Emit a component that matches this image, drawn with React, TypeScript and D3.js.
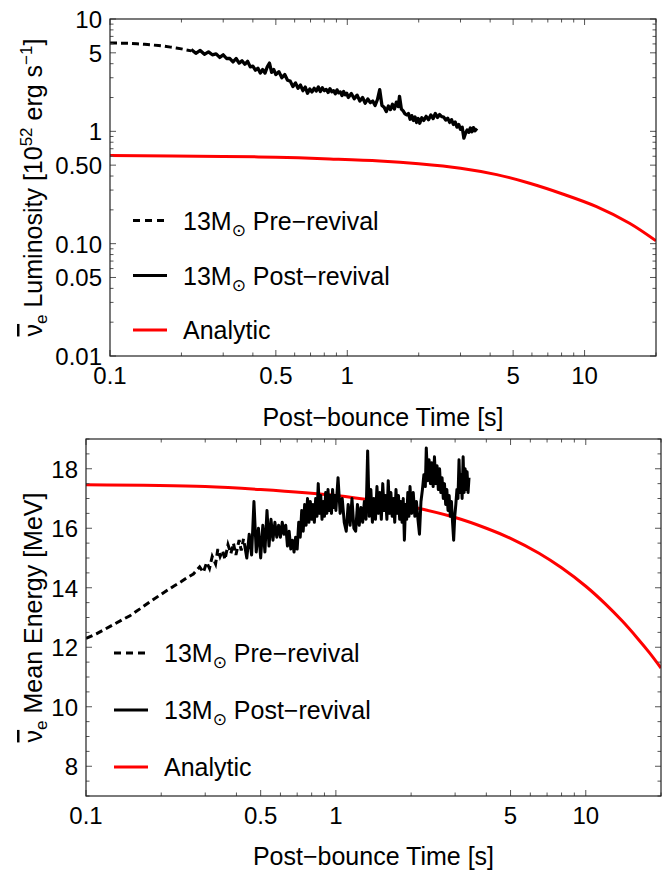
import React from "react";
import * as d3 from "d3";

// ---------- Data: luminosity panel ----------
const lumPreTime = [0.1, 0.11, 0.12, 0.13, 0.14, 0.15, 0.16, 0.17, 0.18, 0.19, 0.2, 0.21, 0.22];
const lumPreValue = [6.1, 6.1, 6.08, 6.02, 5.95, 5.88, 5.8, 5.72, 5.62, 5.52, 5.42, 5.3, 5.2];

const lumPostTime = [
  0.22, 0.23, 0.24, 0.25, 0.26, 0.27, 0.28, 0.29, 0.3, 0.31, 0.32, 0.33, 0.34, 0.35, 0.36, 0.37,
  0.38, 0.39, 0.4, 0.41, 0.42, 0.43, 0.44, 0.45, 0.46, 0.47, 0.48, 0.49, 0.5, 0.515, 0.53, 0.545,
  0.56, 0.575, 0.59, 0.605, 0.62, 0.635, 0.65, 0.665, 0.68, 0.695, 0.71, 0.725, 0.74, 0.755, 0.77,
  0.785, 0.8, 0.815, 0.83, 0.845, 0.86, 0.875, 0.89, 0.905, 0.92, 0.935, 0.95, 0.965, 0.98, 0.995,
  1.01, 1.04, 1.07, 1.1, 1.13, 1.16, 1.19, 1.22, 1.25, 1.28, 1.31, 1.34, 1.37, 1.4, 1.43, 1.46,
  1.49, 1.52, 1.55, 1.58, 1.61, 1.64, 1.66, 1.69, 1.72, 1.75, 1.78, 1.81, 1.84, 1.87, 1.9, 1.93,
  1.96, 1.99, 2.02, 2.06, 2.1, 2.15, 2.2, 2.25, 2.3, 2.35, 2.4, 2.45, 2.5, 2.55, 2.6, 2.65, 2.7,
  2.75, 2.8, 2.85, 2.9, 2.95, 3.0, 3.05, 3.1, 3.15, 3.2, 3.25, 3.3, 3.35, 3.4, 3.45, 3.52,
];
const lumPostValue = [
  5.35, 4.95, 5.25, 4.85, 5.1, 4.8, 4.9, 4.55, 4.8, 4.45, 4.45, 4.15, 4.45, 4.05, 4.25, 3.95,
  4.2, 3.75, 3.8, 3.5, 3.65, 3.3, 3.55, 3.3, 3.75, 4.05, 3.35, 3.55, 3.2, 3.4, 3.0, 3.2,
  2.85, 2.8, 2.5, 2.7, 2.42, 2.58, 2.3, 2.48, 2.18, 2.38, 2.24, 2.42, 2.28, 2.48, 2.26,
  2.44, 2.3, 2.36, 2.22, 2.4, 2.25, 2.3, 2.16, 2.34, 2.2, 2.24, 2.08, 2.26, 2.12, 2.18,
  2.0, 2.17, 1.95, 2.1, 1.86, 2.0, 1.78, 1.94, 1.8, 1.86, 1.7, 1.92, 2.35, 1.7, 1.64, 1.5,
  1.68, 1.56, 1.74, 1.58, 1.82, 1.66, 2.05, 1.58, 1.52, 1.43, 1.4, 1.44, 1.28, 1.38, 1.25, 1.34,
  1.2, 1.3, 1.18, 1.32, 1.25, 1.36, 1.27, 1.4, 1.3, 1.44, 1.33, 1.41, 1.35, 1.34, 1.26, 1.31, 1.2,
  1.27, 1.15, 1.21, 1.09, 1.15, 1.04, 1.09, 0.87, 0.96, 1.03, 0.98, 1.07, 0.99, 1.08, 1.01, 1.06,
];

const lumAnaTime = [0.1, 0.3, 0.5, 0.844, 1.37, 2.0, 3.0, 4.262, 5.866, 8.08, 11.23, 15.47, 20];
const lumAnaValue = [0.608, 0.598, 0.588, 0.568, 0.545, 0.515, 0.47, 0.412, 0.345, 0.277, 0.2136, 0.152, 0.106];

// ---------- Data: mean energy panel ----------
const enPreTime = [
  0.1, 0.11, 0.12, 0.13, 0.14, 0.15, 0.165, 0.18, 0.195, 0.21, 0.225, 0.24, 0.255, 0.269,
  0.285, 0.295, 0.304, 0.312, 0.32, 0.33, 0.337, 0.344, 0.352, 0.36, 0.37, 0.38, 0.389, 0.398,
  0.41, 0.418, 0.427,
];
const enPreValue = [
  12.3, 12.45, 12.62, 12.78, 12.93, 13.06, 13.3, 13.52, 13.72, 13.9, 14.06, 14.2, 14.35, 14.46,
  14.7, 14.52, 14.85, 14.65, 15.05, 14.8, 15.3, 15.05, 15.25, 14.95, 15.45, 15.15, 15.5, 15.1,
  15.6, 15.25, 15.65,
];

const enPostTime = [
  0.43, 0.44, 0.45, 0.46, 0.47, 0.48, 0.49, 0.5, 0.51, 0.52, 0.53, 0.54, 0.55, 0.56, 0.57, 0.58,
  0.59, 0.6, 0.61, 0.62, 0.63, 0.64, 0.65, 0.66, 0.67, 0.68, 0.69, 0.7, 0.71, 0.72, 0.73, 0.74,
  0.75, 0.76, 0.77, 0.78, 0.79, 0.8, 0.81, 0.82, 0.83, 0.84, 0.85, 0.86, 0.87, 0.88, 0.89, 0.9,
  0.91, 0.92, 0.93, 0.94, 0.95, 0.96, 0.97, 0.98, 0.99,
  1.0, 1.02, 1.04, 1.06, 1.08, 1.1, 1.12, 1.14, 1.16, 1.18, 1.2, 1.22, 1.24, 1.26, 1.28, 1.3,
  1.32, 1.34, 1.36, 1.38, 1.4, 1.42, 1.44, 1.46, 1.48, 1.5, 1.52, 1.54, 1.56, 1.58, 1.6, 1.62,
  1.64, 1.66, 1.68, 1.7, 1.72, 1.74, 1.76, 1.78, 1.8, 1.82, 1.84, 1.86, 1.88, 1.9, 1.92, 1.94,
  1.96, 1.98,
  2.01, 2.04, 2.07, 2.1, 2.13, 2.16, 2.19, 2.22, 2.25, 2.28, 2.3, 2.33, 2.36, 2.39, 2.42, 2.45,
  2.48, 2.51, 2.54, 2.57, 2.6, 2.63, 2.66, 2.69, 2.72, 2.75, 2.78, 2.81, 2.84, 2.87, 2.9, 2.93,
  2.96, 2.99, 3.02, 3.05, 3.08, 3.11, 3.14, 3.17, 3.2, 3.23, 3.26, 3.29, 3.32, 3.35, 3.38, 3.41,
];
const enPostValue = [
  15.5, 15.0, 15.8, 15.1, 16.9, 15.2, 16.0, 15.0, 16.1, 15.2, 16.6, 15.4, 16.3, 15.6, 16.2, 15.7,
  16.1, 15.7, 16.2, 15.8, 16.1, 15.4, 15.9, 15.3, 15.6, 15.2, 15.7, 15.3, 16.2, 15.7, 16.6, 15.9,
  16.8, 16.1, 17.0, 16.2, 16.9, 16.3, 16.8, 16.2, 17.0, 16.4, 17.5, 16.5, 17.1, 16.3, 16.9, 16.4,
  17.2, 16.5, 17.3, 16.6, 17.1, 16.5, 17.3, 16.7, 17.1,
  16.6, 17.7, 16.5, 17.0, 16.2, 15.9, 16.8, 16.1, 17.0, 16.0, 15.9, 16.8, 16.1, 16.7, 16.2, 16.9,
  16.3, 18.6, 16.4, 17.3, 16.2, 17.0, 16.3, 17.4, 16.5, 17.2, 16.3, 17.5, 16.6, 17.1, 16.3, 17.6,
  16.5, 17.2, 16.4, 17.0, 16.2, 17.3, 16.5, 17.1, 16.3, 16.9, 16.2, 17.0, 15.6, 16.8, 16.3, 17.2,
  16.4, 17.4,
  16.5, 17.2, 16.4, 16.9, 16.3, 15.8, 16.9, 17.3, 17.8, 17.4, 18.7, 17.6, 18.3, 17.5, 18.2, 17.4,
  18.4, 17.5, 18.1, 17.3, 18.0, 17.2, 17.7, 17.0, 17.5, 16.8, 17.3, 16.6, 17.1, 16.4, 16.9, 16.2,
  15.6, 16.4, 16.8, 17.3, 17.0, 18.3, 17.2, 17.8, 17.0, 18.4, 17.2, 18.0, 17.3, 17.9, 17.2, 17.7,
];

const enAnaTime = [0.1, 0.3, 0.5, 1.0, 1.5, 2.0, 3.0, 4.0, 5.0, 6.5, 8.0, 10, 12, 14, 16, 18, 20];
const enAnaValue = [17.46, 17.4, 17.3, 17.1, 16.9, 16.72, 16.36, 16.0, 15.66, 15.16, 14.67, 14.05, 13.45, 12.88, 12.33, 11.81, 11.3];

// ---------- Ticks / labels ----------
const timeTickValues = [0.1, 0.5, 1, 5, 10];
const timeTickLabels = ["0.1", "0.5", "1", "5", "10"];
const lumTickValues = [0.01, 0.05, 0.1, 0.5, 1, 5, 10];
const lumTickLabels = ["0.01", "0.05", "0.10", "0.50", "1", "5", "10"];
const enTickValues = [8, 10, 12, 14, 16, 18];
const enTickLabels = ["8", "10", "12", "14", "16", "18"];

const legendLabels = ["Pre\u2212revival", "Post\u2212revival", "Analytic"];
const xTitle = "Post\u2212bounce Time [s]";

const FONT = "'Liberation Sans', Arial, Helvetica, sans-serif";
const RED = "#ff0000";
const FRAME = "#222";
const TICK = "#555";

function logMinors(lo: number, hi: number) {
  const out: number[] = [];
  for (let e = Math.floor(Math.log10(lo)); e <= Math.ceil(Math.log10(hi)); e++) {
    for (let m = 1; m <= 9; m++) {
      const v = m * Math.pow(10, e);
      if (v >= lo * 0.999 && v <= hi * 1.001) out.push(v);
    }
  }
  return out;
}

type Box = { l: number; r: number; t: number; b: number };

function Frame({ box, xs, ys, xMinor, yMinor, xMajor, yMajor }: any) {
  const maj = 6;
  const min = 3.5;
  const els: any[] = [];
  xMajor.forEach((v: number, i: number) => {
    const x = xs(v);
    els.push(<line key={"xb" + i} x1={x} x2={x} y1={box.b} y2={box.b - maj} stroke={TICK} strokeWidth={1} />);
    els.push(<line key={"xt" + i} x1={x} x2={x} y1={box.t} y2={box.t + maj} stroke={TICK} strokeWidth={1} />);
  });
  xMinor.forEach((v: number, i: number) => {
    const x = xs(v);
    els.push(<line key={"xmb" + i} x1={x} x2={x} y1={box.b} y2={box.b - min} stroke={TICK} strokeWidth={1} />);
    els.push(<line key={"xmt" + i} x1={x} x2={x} y1={box.t} y2={box.t + min} stroke={TICK} strokeWidth={1} />);
  });
  yMajor.forEach((v: number, i: number) => {
    const y = ys(v);
    els.push(<line key={"yl" + i} x1={box.l} x2={box.l + maj} y1={y} y2={y} stroke={TICK} strokeWidth={1} />);
    els.push(<line key={"yr" + i} x1={box.r} x2={box.r - maj} y1={y} y2={y} stroke={TICK} strokeWidth={1} />);
  });
  yMinor.forEach((v: number, i: number) => {
    const y = ys(v);
    els.push(<line key={"yml" + i} x1={box.l} x2={box.l + min} y1={y} y2={y} stroke={TICK} strokeWidth={1} />);
    els.push(<line key={"ymr" + i} x1={box.r} x2={box.r - min} y1={y} y2={y} stroke={TICK} strokeWidth={1} />);
  });
  return (
    <g>
      {els}
      <rect x={box.l} y={box.t} width={box.r - box.l} height={box.b - box.t} fill="none" stroke={FRAME} strokeWidth={1.2} />
    </g>
  );
}

function Legend({ x0, rows }: { x0: number; rows: number[] }) {
  const styles = [
    { stroke: "#000", dash: "7,5" },
    { stroke: "#000", dash: undefined },
    { stroke: RED, dash: undefined },
  ];
  return (
    <g>
      {rows.map((y, i) => (
        <g key={i}>
          <line x1={x0} x2={x0 + 34} y1={y} y2={y} stroke={styles[i].stroke} strokeWidth={3} strokeDasharray={styles[i].dash} />
          <text x={x0 + 50} y={y + 9} fontSize={25} fontFamily={FONT} fill="#000">
            {i < 2 ? (
              <>
                13M<tspan fontSize={17} dy={6} fontFamily="'DejaVu Sans', sans-serif">⊙</tspan>
                <tspan dy={-6}> {legendLabels[i]}</tspan>
              </>
            ) : (
              legendLabels[i]
            )}
          </text>
        </g>
      ))}
    </g>
  );
}

export default function App() {
  const W = 670;
  const H = 871;

  // ----- top panel -----
  const top: Box = { l: 110, r: 656, t: 19, b: 356 };
  const xT = d3.scaleLog().domain([0.1, 20]).range([top.l, top.r]);
  const yT = d3.scaleLog().domain([0.01, 10]).range([top.b, top.t]);

  // ----- bottom panel -----
  const bot: Box = { l: 86, r: 661, t: 439, b: 796 };
  const xB = d3.scaleLog().domain([0.1, 20]).range([bot.l, bot.r]);
  const yB = d3.scaleLinear().domain([7, 19]).range([bot.b, bot.t]);

  const timeMinor = logMinors(0.1, 20).filter((v) => !timeTickValues.some((m) => Math.abs(m - v) < 1e-9));
  const lumMinor = logMinors(0.01, 10).filter((v) => !lumTickValues.some((m) => Math.abs(m - v) < 1e-9));
  const enMinor = d3.range(7, 19.01, 0.5).filter((v) => !enTickValues.includes(v));

  const lineT = (ts: number[], vs: number[], curve: any) =>
    d3.line<number>().x((_, i) => xT(ts[i])).y((_, i) => yT(vs[i])).curve(curve)(ts) || "";
  const lineB = (ts: number[], vs: number[], curve: any) =>
    d3.line<number>().x((_, i) => xB(ts[i])).y((_, i) => yB(vs[i])).curve(curve)(ts) || "";

  const yLabelTopCx = 42;
  const yLabelBotCx = 42;

  return (
    <svg width={W} height={H} style={{ position: "absolute", left: 0, top: 0, background: "#fff" }}>
      <defs>
        <clipPath id="clipTop">
          <rect x={top.l} y={top.t} width={top.r - top.l} height={top.b - top.t} />
        </clipPath>
        <clipPath id="clipBot">
          <rect x={bot.l} y={bot.t} width={bot.r - bot.l} height={bot.b - bot.t} />
        </clipPath>
      </defs>
      <rect x={0} y={0} width={W} height={H} fill="#fff" />

      {/* ===== TOP PANEL ===== */}
      <g clipPath="url(#clipTop)">
        <path d={lineT(lumAnaTime, lumAnaValue, d3.curveCatmullRom)} fill="none" stroke={RED} strokeWidth={3} />
        <path d={lineT(lumPreTime, lumPreValue, d3.curveLinear)} fill="none" stroke="#000" strokeWidth={3} strokeDasharray="7,4" />
        <path d={lineT(lumPostTime, lumPostValue, d3.curveLinear)} fill="none" stroke="#000" strokeWidth={3.3} strokeLinejoin="round" />
      </g>
      <Frame box={top} xs={xT} ys={yT} xMinor={timeMinor} yMinor={lumMinor} xMajor={timeTickValues} yMajor={lumTickValues} />
      {lumTickValues.map((v, i) => (
        <text key={"lt" + i} x={top.l - 8} y={yT(v) + 9} textAnchor="end" fontSize={24} fontFamily={FONT}>
          {lumTickLabels[i]}
        </text>
      ))}
      {timeTickValues.map((v, i) => (
        <text key={"tt" + i} x={xT(v)} y={384} textAnchor="middle" fontSize={24} fontFamily={FONT}>
          {timeTickLabels[i]}
        </text>
      ))}
      <text x={(top.l + top.r) / 2} y={426} textAnchor="middle" fontSize={25} fontFamily={FONT}>
        {xTitle}
      </text>
      <text transform={`translate(${yLabelTopCx},${(top.t + top.b) / 2}) rotate(-90)`} textAnchor="middle" fontSize={25} fontFamily={FONT}>
        <tspan style={{ textDecoration: "overline" }}>ν</tspan>
        <tspan fontSize={17} dy={5}>e</tspan>
        <tspan dy={-5}> Luminosity [10</tspan>
        <tspan fontSize={17} dy={-10}>52</tspan>
        <tspan dy={10}> erg s</tspan>
        <tspan fontSize={17} dy={-10}>−1</tspan>
        <tspan dy={10}>]</tspan>
      </text>
      <Legend x0={133} rows={[220.5, 275.5, 330]} />

      {/* ===== BOTTOM PANEL ===== */}
      <g clipPath="url(#clipBot)">
        <path d={lineB(enAnaTime, enAnaValue, d3.curveCatmullRom)} fill="none" stroke={RED} strokeWidth={3} />
        <path d={lineB(enPreTime, enPreValue, d3.curveLinear)} fill="none" stroke="#000" strokeWidth={3} strokeDasharray="7,4" />
        <path d={lineB(enPostTime, enPostValue, d3.curveLinear)} fill="none" stroke="#000" strokeWidth={3} strokeLinejoin="round" />
      </g>
      <Frame box={bot} xs={xB} ys={yB} xMinor={timeMinor} yMinor={enMinor} xMajor={timeTickValues} yMajor={enTickValues} />
      {enTickValues.map((v, i) => (
        <text key={"et" + i} x={bot.l - 8} y={yB(v) + 9} textAnchor="end" fontSize={24} fontFamily={FONT}>
          {enTickLabels[i]}
        </text>
      ))}
      {timeTickValues.map((v, i) => (
        <text key={"bt" + i} x={xB(v)} y={824} textAnchor="middle" fontSize={24} fontFamily={FONT}>
          {timeTickLabels[i]}
        </text>
      ))}
      <text x={(bot.l + bot.r) / 2} y={865} textAnchor="middle" fontSize={25} fontFamily={FONT}>
        {xTitle}
      </text>
      <text transform={`translate(${yLabelBotCx},${(bot.t + bot.b) / 2}) rotate(-90)`} textAnchor="middle" fontSize={25} fontFamily={FONT}>
        <tspan style={{ textDecoration: "overline" }}>ν</tspan>
        <tspan fontSize={17} dy={5}>e</tspan>
        <tspan dy={-5}> Mean Energy [MeV]</tspan>
      </text>
      <Legend x0={114} rows={[653, 710, 767]} />
    </svg>
  );
}
